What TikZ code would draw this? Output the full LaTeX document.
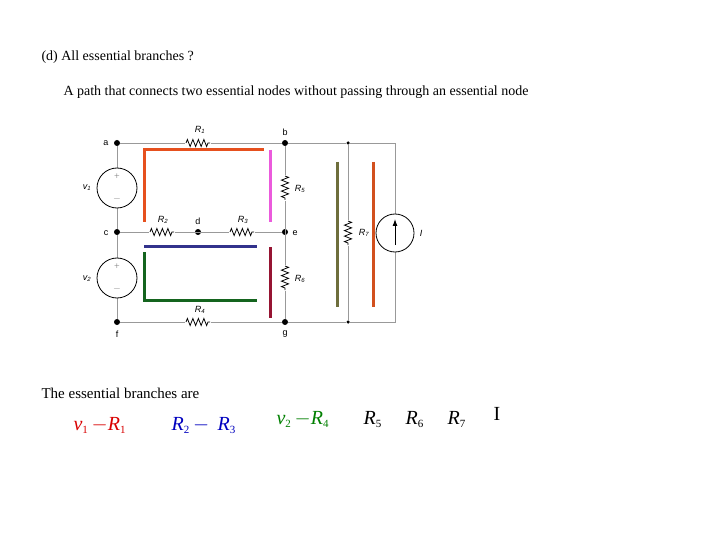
\documentclass[tikz,border=0pt]{standalone}
\usepackage{fontspec}
\setmainfont{Liberation Serif}
\setsansfont{Liberation Sans}
\usetikzlibrary{decorations.pathmorphing,arrows.meta}
\begin{document}
\begin{tikzpicture}[x=1pt,y=-1pt,
  wire/.style={draw=gray!80,line width=0.9pt},
  dot/.style={circle,fill=black,inner sep=0pt,minimum size=6pt},
  lab/.style={font=\sffamily\fontsize{9}{10}\selectfont},
  rlab/.style={font=\sffamily\itshape\fontsize{9}{10}\selectfont},
  res/.style={draw=black,line width=0.8pt,decorate,decoration={zigzag,segment length=5.5pt,amplitude=3.5pt}},
  src/.style={circle,draw=black,line width=0.8pt,fill=white,minimum size=40pt,inner sep=0pt},
  pm/.style={font=\fontsize{10}{11}\selectfont,gray},
  hl/.style={line width=3pt}]
\useasboundingbox[fill=white] (0,0) rectangle (720,540);
\node[anchor=west,font=\fontsize{14}{16}\selectfont] (t1) at (38,57) {(d) All essential branches ?};
\node[anchor=west,font=\fontsize{14}{16}\selectfont] (t2) at (60,92) {A path that connects two essential nodes without passing through an essential node};
\node[anchor=west,font=\fontsize{15}{17}\selectfont] (t3) at (38,393) {The essential branches are};
% nodes
\node[dot] (a) at (117,143) {}; \node[dot] (b) at (285,143) {};
\node[dot] (c) at (117,232) {}; \node[dot] (d) at (198,232) {};
\node[dot] (e) at (285,232) {}; \node[dot] (f) at (117,322) {};
\node[dot] (g) at (285,322) {};
\node[circle,fill=black,inner sep=0pt,minimum size=3.5pt] (bt) at (348,143) {};
\node[circle,fill=black,inner sep=0pt,minimum size=3.5pt] (bb) at (348,322) {};
\coordinate (tr) at (395,143); \coordinate (br) at (395,322);
% wires
\draw[wire] (a) -- (b) -- (bt) -- (tr) -- (br) -- (bb) -- (g) -- (f) -- (c) -- (a);
\draw[wire] (c) -- (e); \draw[wire] (b) -- (g); \draw[wire] (bt) -- (bb);
% resistors
\fill[white] (185,138) rectangle (211,148);
\draw[res] (186,143) -- (210,143);
\fill[white] (185,317) rectangle (211,327);
\draw[res] (186,322) -- (210,322);
\fill[white] (149,227) rectangle (175,237);
\draw[res] (150,232) -- (174,232);
\fill[white] (229,227) rectangle (255,237);
\draw[res] (230,232) -- (254,232);
\fill[white] (280,175) rectangle (290,201);
\draw[res] (285,176) -- (285,200);
\fill[white] (280,265) rectangle (290,291);
\draw[res] (285,266) -- (285,290);
\fill[white] (343,220) rectangle (353,246);
\draw[res] (348,221) -- (348,245);
% sources
\node[src] (v1) at (117,188) {};
\node[pm] at (117,177) {+};
\node[pm] at (117,199) {$-$};
\node[src] (v2) at (117,278) {};
\node[pm] at (117,267) {+};
\node[pm] at (117,289) {$-$};
\node[src,minimum size=38pt] (I) at (395,233) {};
\draw[-{Latex[length=7pt,width=5pt]},line width=0.9pt] (395,245) -- (395,219);
% labels
\node[lab] at (106,143) {a}; \node[lab] at (285,132) {b};
\node[lab] at (106,233) {c}; \node[lab] at (198,221) {d};
\node[lab] at (295,233) {e}; \node[lab] at (117,334) {f};
\node[lab] at (285,334) {g};
\node[rlab] at (200,130) {R\textsubscript{1}};
\node[rlab] at (163,220) {R\textsubscript{2}};
\node[rlab] at (243,220) {R\textsubscript{3}};
\node[rlab] at (200,310) {R\textsubscript{4}};
\node[rlab] at (300,189) {R\textsubscript{5}};
\node[rlab] at (300,279) {R\textsubscript{6}};
\node[rlab] at (364,233) {R\textsubscript{7}};
\node[rlab] at (87,188) {v\textsubscript{1}};
\node[rlab] at (87,279) {v\textsubscript{2}};
\node[rlab] at (421,233) {I};
% highlights
\draw[hl,color={rgb,255:red,230;green,80;blue,30}] (144,222) -- (144,150) -- (264,150);
\draw[hl,color={rgb,255:red,235;green,90;blue,220}] (270,150) -- (270,222);
\draw[hl,color={rgb,255:red,50;green,50;blue,140}] (144,246) -- (257,246);
\draw[hl,color={rgb,255:red,20;green,100;blue,30}] (144,252) -- (144,300) -- (257,300);
\draw[hl,color={rgb,255:red,150;green,20;blue,50}] (270,247) -- (270,318);
\draw[hl,color={rgb,255:red,110;green,110;blue,60}] (337,162) -- (337,307);
\draw[hl,color={rgb,255:red,210;green,80;blue,30}] (373,162) -- (373,307);
% bottom formulas
\node[anchor=base west,text=red!85!black] (f1) at (70,430) {\fontsize{20}{22}\selectfont\itshape v\textsubscript{\normalfont\fontsize{11}{12}\selectfont 1}\,\normalfont$-$\itshape R\textsubscript{\normalfont\fontsize{11}{12}\selectfont 1}};
\node[anchor=base west,text=blue!75!black] (f2) at (168,430) {\fontsize{20}{22}\selectfont\itshape R\textsubscript{\normalfont\fontsize{11}{12}\selectfont 2}\normalfont\,$-$\, \itshape R\textsubscript{\normalfont\fontsize{11}{12}\selectfont 3}};
\node[anchor=base west,text=green!50!black] (f3) at (273,424) {\fontsize{20}{22}\selectfont\itshape v\textsubscript{\normalfont\fontsize{11}{12}\selectfont 2}\,\normalfont$-$\itshape R\textsubscript{\normalfont\fontsize{11}{12}\selectfont 4}};
\node[anchor=base west] (f4) at (360,424) {\fontsize{20}{22}\selectfont\itshape R\textsubscript{\normalfont\fontsize{11}{12}\selectfont 5}};
\node[anchor=base west] (f5) at (402,424) {\fontsize{20}{22}\selectfont\itshape R\textsubscript{\normalfont\fontsize{11}{12}\selectfont 6}};
\node[anchor=base west] (f6) at (444,424) {\fontsize{20}{22}\selectfont\itshape R\textsubscript{\normalfont\fontsize{11}{12}\selectfont 7}};
\node[anchor=base west] (f7) at (490,420) {\fontsize{20}{22}\selectfont I};
\end{tikzpicture}
\end{document}
